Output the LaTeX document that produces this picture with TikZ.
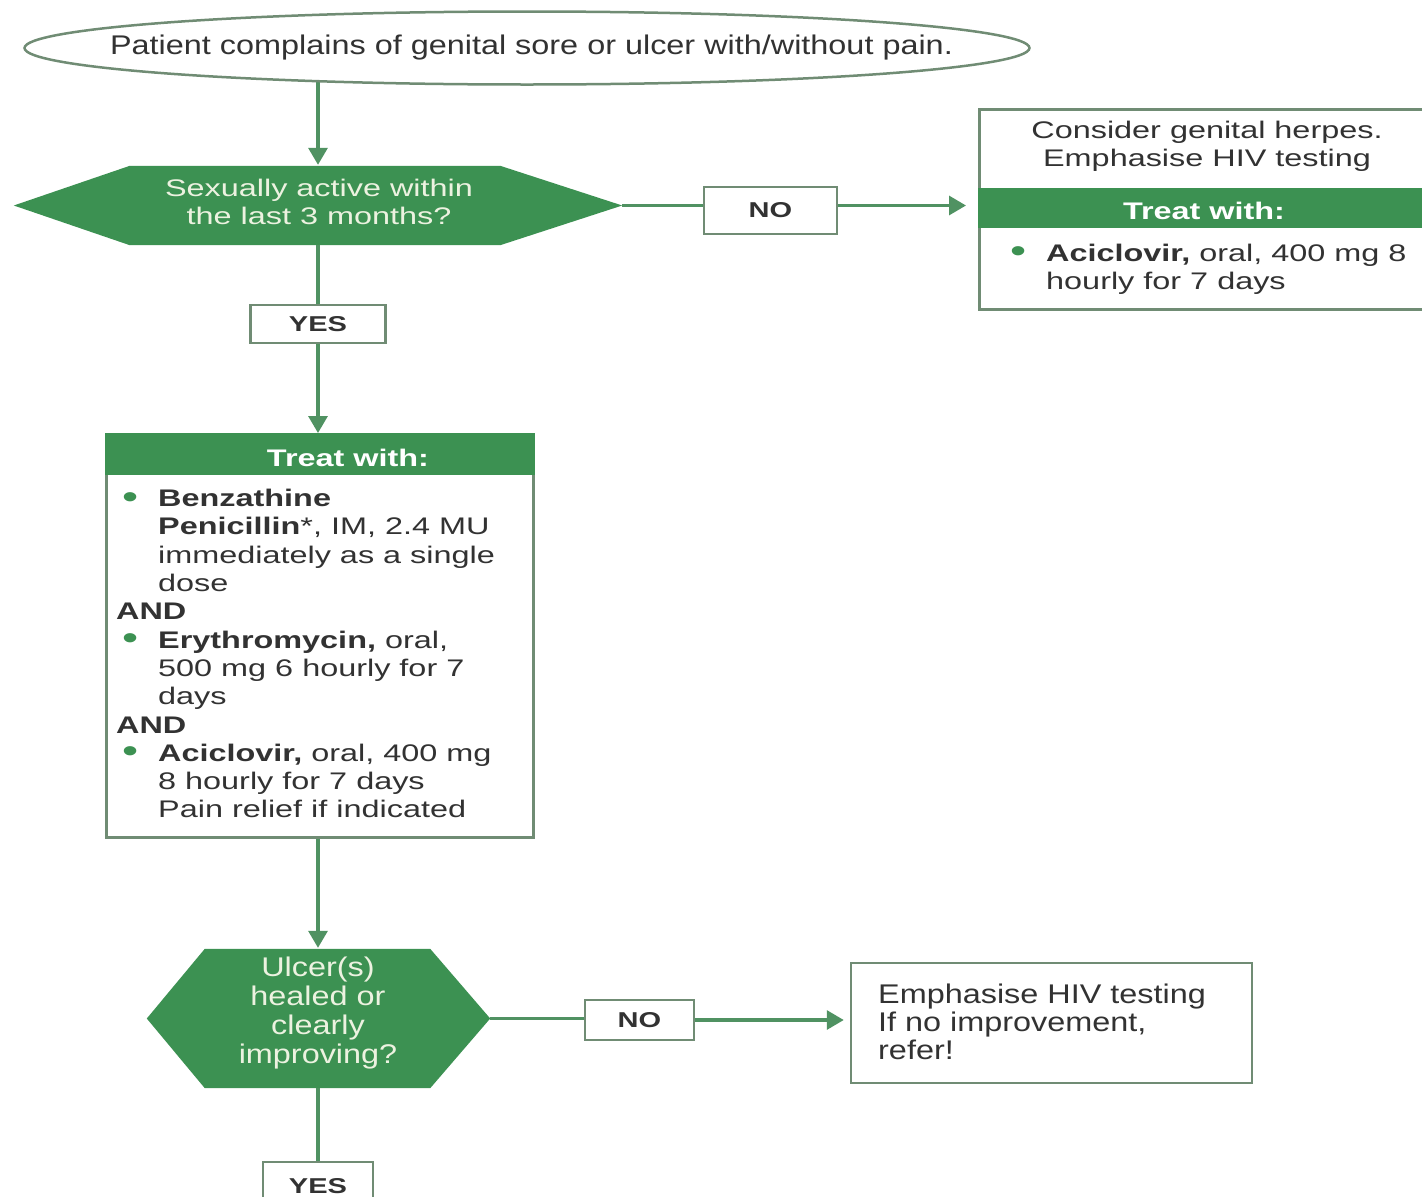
\documentclass[tikz,border=0pt]{standalone}
\usepackage{fontspec}
\setmainfont{Liberation Sans}
\newfontfamily\fA[FakeStretch=1.35]{Liberation Sans}
\newfontfamily\fC[FakeStretch=1.2]{Liberation Sans}
\usetikzlibrary{arrows.meta,shapes.geometric,backgrounds,calc}
\definecolor{gfill}{RGB}{60,145,82}
\definecolor{gline}{RGB}{80,146,98}
\definecolor{gbord}{RGB}{112,140,116}
\definecolor{txt}{RGB}{50,50,50}
\definecolor{lite}{RGB}{236,242,224}
\tikzset{
  conn/.style={draw=gline, line width=3.2pt},
  arr/.style={conn, -{Triangle[length=17pt,width=19pt]}},
  box/.style={draw=gbord, line width=2.5pt, fill=white, inner sep=0pt},
  lbl/.style={box, font=\fA\bfseries\fontsize{21.5}{26}\selectfont, text=txt},
  bodytxt/.style={inner sep=0pt, anchor=north west, align=left, text=txt, font=\fA\fontsize{24}{28.3}\selectfont},
  ctrtxt/.style={inner sep=0pt, align=center, text=txt, font=\fA\fontsize{24}{28}\selectfont},
  head/.style={font=\fA\bfseries\fontsize{24}{28}\selectfont, text=white, inner sep=0pt},
  band/.style={fill=gfill},
  hexfill/.style={fill=gfill},
}
\newcommand{\gbul}{\makebox[42pt][l]{\hspace{6pt}\textcolor{gfill}{\smash{\raisebox{-1.5pt}{\fontsize{34}{28}\selectfont •}}}}}
\newcommand{\ind}{\hspace*{42pt}}
\begin{document}
\begin{tikzpicture}[x=1pt,y=-1pt]
\useasboundingbox (0,0) rectangle (1422,1197);
\begin{scope}[on background layer]
  \fill[white] (0,0) rectangle (1422,1197);
\end{scope}

% start ellipse
\node[ellipse, draw=gbord, line width=2.5pt, fill=white, minimum width=1005pt, minimum height=73pt, inner sep=0pt] (e1) at (527,48) {};
\node[inner sep=0pt, text=txt, font=\fC\fontsize{27}{30}\selectfont] (e1t) at (531.5,48) {Patient complains of genital sore or ulcer with/without pain.};

% question 1
\node[minimum width=608pt, minimum height=79pt, inner sep=0pt] (q1) at (318,205.5) {};
\fill[hexfill] (q1.west) -- ($(q1.north west)+(116,0)$) -- ($(q1.north east)+(-122,0)$) -- (q1.east)
  -- ($(q1.south east)+(-122,0)$) -- ($(q1.south west)+(116,0)$) -- cycle;
\node[ctrtxt, text=lite] (q1t) at (319,202) {Sexually active within\\the last 3 months?};

% labels
\node[lbl, minimum width=135pt, minimum height=38pt] (y1) at (318,324) {YES};
\node[lbl, minimum width=133pt, minimum height=47pt] (n1) at (770.5,210.5) {NO};

% right box (herpes)
\node[box, minimum width=446pt, minimum height=200pt, anchor=north west] (r1) at (978,108) {};
\fill[band] ($(r1.north west)+(0,80)$) rectangle ($(r1.north east)+(0,120)$);
\node[ctrtxt] (r1a) at (1207,146) {Consider genital herpes.\\Emphasise HIV testing};
\node[head] (r1h) at (1204,211) {Treat with:};
\node[bodytxt] (r1b) at (1004,243.5) {\gbul\textbf{Aciclovir,} oral, 400 mg 8\\\ind hourly for 7 days};

% treatment box
\node[box, minimum width=427pt, minimum height=403pt, anchor=north west] (t1) at (105,433) {};
\fill[band] (t1.north west) rectangle ($(t1.north east)+(0,42)$);
\node[head] (t1h) at (348,458) {Treat with:};
\node[bodytxt] (t1b) at (116,489) {\gbul\textbf{Benzathine}\\
\ind\textbf{Penicillin}*, IM, 2.4 MU\\
\ind immediately as a single\\
\ind dose\\
\textbf{AND}\\
\gbul\textbf{Erythromycin,} oral,\\
\ind 500 mg 6 hourly for 7\\
\ind days\\
\textbf{AND}\\
\gbul\textbf{Aciclovir,} oral, 400 mg\\
\ind 8 hourly for 7 days\\
\ind Pain relief if indicated};

% question 2
\node[minimum width=343pt, minimum height=139pt, inner sep=0pt] (q2) at (318.5,1018.5) {};
\fill[hexfill] (q2.west) -- ($(q2.north west)+(58,0)$) -- ($(q2.north east)+(-60,0)$) -- (q2.east)
  -- ($(q2.south east)+(-60,0)$) -- ($(q2.south west)+(58,0)$) -- cycle;
\node[inner sep=0pt, align=center, text=lite, font=\fC\fontsize{27}{28.7}\selectfont] (q2t) at (318,1013) {Ulcer(s)\\healed or\\clearly\\improving?};

\node[lbl, minimum width=109pt, minimum height=40pt] (n2) at (639.5,1020) {NO};
\node[box, minimum width=401pt, minimum height=120pt] (r2) at (1051.5,1023) {};
\node[inner sep=0pt, anchor=north west, align=left, text=txt, font=\fC\fontsize{27}{28}\selectfont] (r2t) at (878,984) {Emphasise HIV testing\\If no improvement,\\refer!};
\node[lbl, minimum width=110pt, minimum height=48pt] (y2) at (318,1186) {YES};

% connectors
\begin{scope}[on background layer]
  \draw[arr, shorten >=1pt] (q1.north |- e1.center) -- (q1.north);
\end{scope}
\draw[conn] (q1.east) -- (q1.east -| n1.west);
\draw[arr, shorten >=12pt] (n1.east |- q1.east) -- (q1.east -| r1.west);
\draw[conn] (q1.south) -- (q1.south -| y1.north) -- (y1.north);
\draw[arr] (y1.south) -- (y1.south |- t1.north);
\draw[arr, shorten >=1pt] (t1.south -| y1.south) -- (q2.north -| y1.south);
\draw[conn] (q2.east) -- (q2.east -| n2.west);
\draw[arr, shorten >=6pt] (n2.east) -- (n2.east -| r2.west);
\draw[conn] (q2.south -| y2.north) -- (y2.north);
\end{tikzpicture}
\end{document}
